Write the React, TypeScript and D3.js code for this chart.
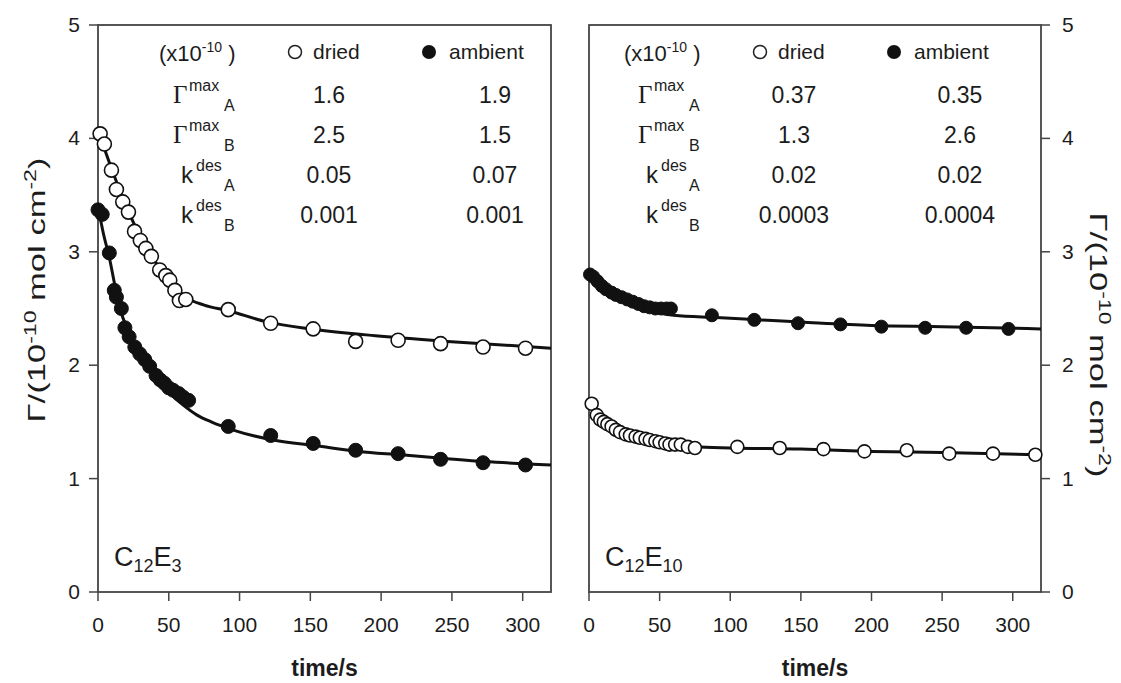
import React from 'react';
import * as d3 from 'd3';

const W = 1121;
const H = 683;

const X_TICKS = [0, 50, 100, 150, 200, 250, 300];
const Y_TICKS = [0, 1, 2, 3, 4, 5];

// Left panel (C12E3)
const leftDriedT = [1.5, 4.5, 9.5, 13, 17.5, 21.5, 25.8, 29.9, 33.8, 37.7, 43.6, 47.9, 50.7, 54.3, 57.5, 62, 92, 122, 152, 182, 212, 242, 272, 302];
const leftDriedY = [4.04, 3.95, 3.72, 3.55, 3.44, 3.35, 3.18, 3.1, 3.03, 2.96, 2.84, 2.79, 2.75, 2.66, 2.57, 2.58, 2.49, 2.37, 2.32, 2.21, 2.22, 2.19, 2.16, 2.15];
const leftAmbT = [0, 3, 8, 11.5, 13, 16.5, 19, 22, 26, 29.5, 33, 36.5, 41, 44, 47, 50, 53, 57, 60, 64, 92, 122, 152, 182, 212, 242, 272, 302];
const leftAmbY = [3.37, 3.33, 2.99, 2.66, 2.6, 2.5, 2.33, 2.25, 2.16, 2.1, 2.05, 1.99, 1.91, 1.87, 1.84, 1.8, 1.78, 1.75, 1.72, 1.69, 1.46, 1.38, 1.31, 1.25, 1.22, 1.17, 1.14, 1.12];
const leftDriedFitT = [0, 10, 20, 30, 40, 50, 62, 75, 92, 120, 150, 196, 247, 320];
const leftDriedFitY = [4.07, 3.72, 3.4, 3.13, 2.92, 2.76, 2.6, 2.53, 2.48, 2.38, 2.32, 2.26, 2.21, 2.15];
const leftAmbFitT = [0, 4, 8, 12, 16, 21, 30, 40, 50, 60, 70, 80, 95, 124, 154, 184, 214, 243, 273, 320];
const leftAmbFitY = [3.4, 3.15, 2.95, 2.7, 2.48, 2.31, 2.07, 1.9, 1.76, 1.65, 1.56, 1.5, 1.43, 1.34, 1.29, 1.24, 1.21, 1.18, 1.15, 1.12];

// Right panel (C12E10)
const rightDriedT = [1.9, 5.5, 8, 10.5, 13, 16, 19, 22, 26, 29, 33, 36, 40, 43, 47, 50, 54, 57, 61, 65, 70, 75, 105, 135, 166, 195, 225, 255, 286, 316];
const rightDriedY = [1.66, 1.56, 1.52, 1.5, 1.48, 1.46, 1.43, 1.41, 1.39, 1.38, 1.37, 1.36, 1.35, 1.34, 1.33, 1.32, 1.31, 1.3, 1.3, 1.3, 1.28, 1.27, 1.28, 1.27, 1.26, 1.24, 1.25, 1.22, 1.22, 1.21];
const rightAmbT = [0.7, 3, 6, 9, 12, 16, 19, 23, 27, 31, 35, 39, 43, 47, 51, 55, 58, 87, 117, 148, 178, 207, 238, 267, 297];
const rightAmbY = [2.8, 2.78, 2.74, 2.7, 2.67, 2.64, 2.62, 2.6, 2.58, 2.56, 2.54, 2.52, 2.51, 2.5, 2.5, 2.5, 2.5, 2.44, 2.4, 2.37, 2.36, 2.34, 2.33, 2.33, 2.32];
const rightDriedFitT = [0, 5, 10, 20, 30, 40, 50, 60, 75, 100, 150, 200, 250, 320];
const rightDriedFitY = [1.66, 1.56, 1.49, 1.42, 1.37, 1.34, 1.31, 1.3, 1.28, 1.27, 1.26, 1.24, 1.23, 1.21];
const rightAmbFitT = [0, 10, 20, 30, 40, 50, 60, 90, 120, 150, 200, 250, 320];
const rightAmbFitY = [2.8, 2.67, 2.59, 2.53, 2.49, 2.46, 2.44, 2.42, 2.4, 2.38, 2.35, 2.34, 2.32];

// Table text
const paramLabels = [
  { base: 'Γ', sup: 'max', sub: 'A' },
  { base: 'Γ', sup: 'max', sub: 'B' },
  { base: 'k', sup: 'des', sub: 'A' },
  { base: 'k', sup: 'des', sub: 'B' },
];
const leftDriedParams = ['1.6', '2.5', '0.05', '0.001'];
const leftAmbParams = ['1.9', '1.5', '0.07', '0.001'];
const rightDriedParams = ['0.37', '1.3', '0.02', '0.0003'];
const rightAmbParams = ['0.35', '2.6', '0.02', '0.0004'];

const FONT = "'Liberation Sans', Arial, Helvetica, sans-serif";
const TXT = '#1c1c1c';

const Y0 = 592;
const Y1 = 25;
const yScale = d3.scaleLinear().domain([0, 5]).range([Y0, Y1]);

type PanelProps = {
  x0: number;
  x1: number;
  side: 'left' | 'right';
  driedT: number[];
  driedY: number[];
  ambT: number[];
  ambY: number[];
  driedFitT: number[];
  driedFitY: number[];
  ambFitT: number[];
  ambFitY: number[];
  driedParams: string[];
  ambParams: string[];
  tableOff: number;
  r: number;
  name: string;
  subA: string;
  subB: string;
};

function Panel(p: PanelProps) {
  const x = d3.scaleLinear().domain([0, 320]).range([p.x0, p.x1]);
  const line = d3
    .line<[number, number]>()
    .x((d) => x(d[0]))
    .y((d) => yScale(d[1]))
    .curve(d3.curveMonotoneX);
  const zip = (a: number[], b: number[]) => a.map((v, i) => [v, b[i]] as [number, number]);
  const o = p.tableOff;
  const rowsY = [103, 143, 183, 223];
  const cx = (p.x0 + p.x1) / 2;
  return (
    <g>
      <rect x={p.x0} y={Y1} width={p.x1 - p.x0} height={Y0 - Y1} fill="none" stroke="#444" strokeWidth={1.8} />
      {X_TICKS.map((t) => (
        <g key={'xt' + t}>
          <line x1={x(t)} x2={x(t)} y1={Y0} y2={Y0 + 9} stroke="#444" strokeWidth={1.5} />
          <text x={x(t)} y={Y0 + 40} textAnchor="middle" fontSize={21} fontFamily={FONT} fill={TXT}>
            {t}
          </text>
        </g>
      ))}
      {Y_TICKS.map((v) =>
        p.side === 'left' ? (
          <g key={'yt' + v}>
            <line x1={p.x0 - 9} x2={p.x0} y1={yScale(v)} y2={yScale(v)} stroke="#444" strokeWidth={1.5} />
            <text x={p.x0 - 18} y={yScale(v) + 7} textAnchor="end" fontSize={21} fontFamily={FONT} fill={TXT}>
              {v}
            </text>
          </g>
        ) : (
          <g key={'yt' + v}>
            <line x1={p.x1} x2={p.x1 + 9} y1={yScale(v)} y2={yScale(v)} stroke="#444" strokeWidth={1.5} />
            <text x={p.x1 + 21} y={yScale(v) + 7} textAnchor="start" fontSize={21} fontFamily={FONT} fill={TXT}>
              {v}
            </text>
          </g>
        )
      )}
      <text x={cx} y={676} textAnchor="middle" fontSize={23} fontWeight="bold" fontFamily={FONT} fill={TXT}>
        time/s
      </text>
      <path d={line(zip(p.driedFitT, p.driedFitY)) || ''} fill="none" stroke="#111" strokeWidth={3} />
      <path d={line(zip(p.ambFitT, p.ambFitY)) || ''} fill="none" stroke="#111" strokeWidth={3} />
      {zip(p.ambT, p.ambY).map((d, i) => (
        <circle key={'a' + i} cx={x(d[0])} cy={yScale(d[1])} r={p.r} fill="#111" stroke="#111" strokeWidth={1} />
      ))}
      {zip(p.driedT, p.driedY).map((d, i) => (
        <circle key={'d' + i} cx={x(d[0])} cy={yScale(d[1])} r={p.r} fill="#fff" stroke="#111" strokeWidth={1.6} />
      ))}
      <text x={159 + o} y={61} fontSize={22} fontFamily={FONT} fill={TXT}>
        (x10
        <tspan dy={-9} fontSize={14}>-10</tspan>
        <tspan dy={9}> )</tspan>
      </text>
      <circle cx={295 + o} cy={52} r={6.5} fill="#fff" stroke="#222" strokeWidth={1.5} />
      <text x={313 + o} y={59} fontSize={21} fontFamily={FONT} fill={TXT}>dried</text>
      <circle cx={429 + o} cy={52} r={7} fill="#111" />
      <text x={449 + o} y={59} fontSize={21} fontFamily={FONT} fill={TXT}>ambient</text>
      {paramLabels.map((l, i) => {
        const isG = l.base === 'Γ';
        return (
          <g key={'row' + i}>
            <text
              x={(isG ? 173 : 181) + o}
              y={rowsY[i]}
              fontSize={isG ? 25 : 24}
              fontFamily={isG ? "'Liberation Serif', 'Times New Roman', serif" : FONT}
              fill={TXT}
            >
              {l.base}
            </text>
            <text x={(isG ? 189 : 196) + o} y={rowsY[i] - 12} fontSize={16} fontFamily={FONT} fill={TXT}>
              {l.sup}
            </text>
            <text x={224 + o} y={rowsY[i] + 8} fontSize={16} fontFamily={FONT} fill={TXT}>
              {l.sub}
            </text>
            <text x={329 + o} y={rowsY[i]} textAnchor="middle" fontSize={23} fontFamily={FONT} fill={TXT}>
              {p.driedParams[i]}
            </text>
            <text x={495 + o} y={rowsY[i]} textAnchor="middle" fontSize={23} fontFamily={FONT} fill={TXT}>
              {p.ambParams[i]}
            </text>
          </g>
        );
      })}
      <text x={p.x0 + 16} y={566} fontSize={27} fontFamily={FONT} fill={TXT}>
        {p.name.charAt(0)}
        <tspan dy={6} fontSize={18}>{p.subA}</tspan>
        <tspan dy={-6}>E</tspan>
        <tspan dy={6} fontSize={18}>{p.subB}</tspan>
      </text>
    </g>
  );
}

function YLabel({ x, y, rot }: { x: number; y: number; rot: number }) {
  return (
    <text
      transform={`translate(${x},${y}) rotate(${rot})`}
      textAnchor="middle"
      fontSize={24}
      fontFamily={FONT}
      fill={TXT}
      textLength={265}
      lengthAdjust="spacingAndGlyphs"
    >
      Γ/(10
      <tspan dy={-9} fontSize={16}>-10</tspan>
      <tspan dy={9}> mol cm</tspan>
      <tspan dy={-9} fontSize={16}>-2</tspan>
      <tspan dy={9}>)</tspan>
    </text>
  );
}

export default function App() {
  return (
    <svg
      width={W}
      height={H}
      viewBox={`0 0 ${W} ${H}`}
      style={{ position: 'absolute', left: 0, top: 0, background: '#fff' }}
    >
      <rect x={0} y={0} width={W} height={H} fill="#fff" />
      <Panel
        x0={98}
        x1={551}
        side="left"
        driedT={leftDriedT}
        driedY={leftDriedY}
        ambT={leftAmbT}
        ambY={leftAmbY}
        driedFitT={leftDriedFitT}
        driedFitY={leftDriedFitY}
        ambFitT={leftAmbFitT}
        ambFitY={leftAmbFitY}
        driedParams={leftDriedParams}
        ambParams={leftAmbParams}
        tableOff={0}
        r={7}
        name="C"
        subA="12"
        subB="3"
      />
      <Panel
        x0={589}
        x1={1041}
        side="right"
        driedT={rightDriedT}
        driedY={rightDriedY}
        ambT={rightAmbT}
        ambY={rightAmbY}
        driedFitT={rightDriedFitT}
        driedFitY={rightDriedFitY}
        ambFitT={rightAmbFitT}
        ambFitY={rightAmbFitY}
        driedParams={rightDriedParams}
        ambParams={rightAmbParams}
        tableOff={465}
        r={6.5}
        name="C"
        subA="12"
        subB="10"
      />
      <YLabel x={45} y={290} rot={-90} />
      <YLabel x={1090} y={345} rot={90} />
    </svg>
  );
}
